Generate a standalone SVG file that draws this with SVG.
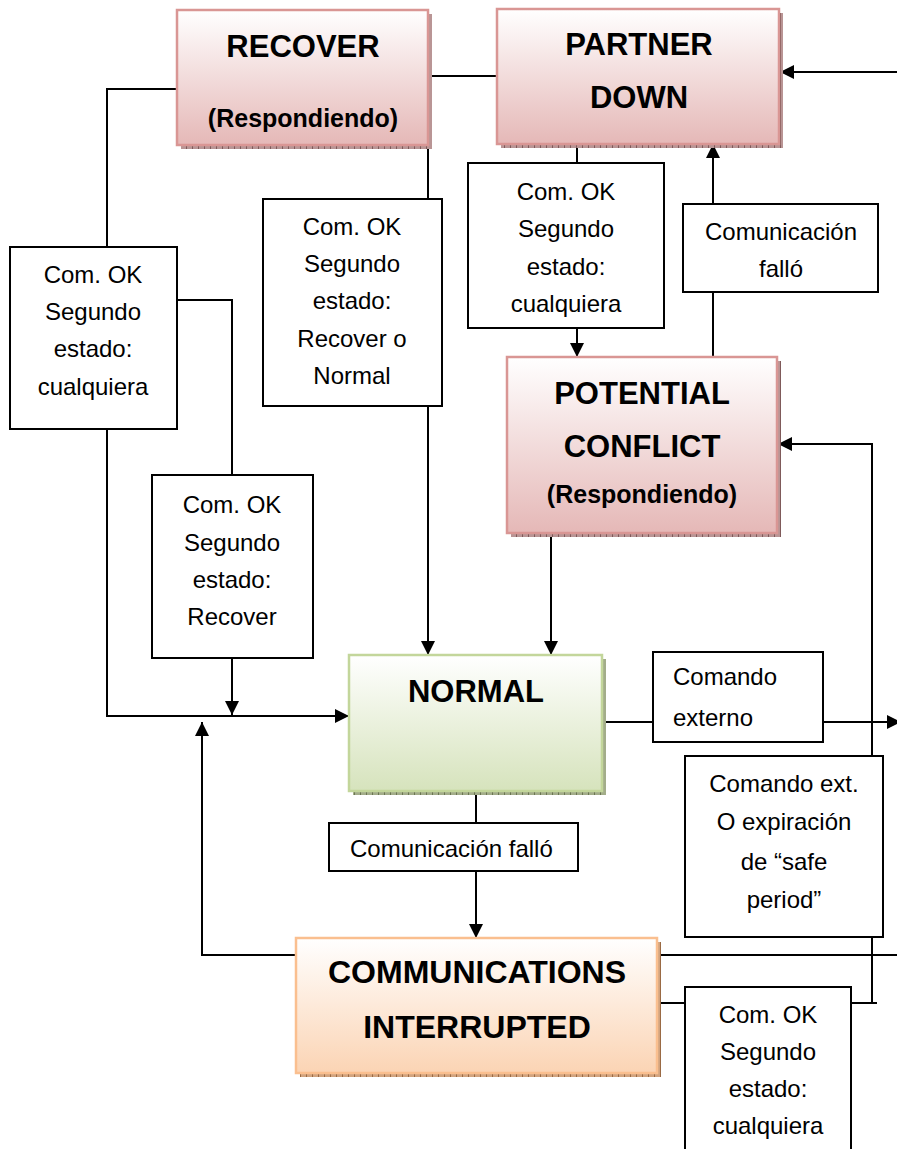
<svg xmlns="http://www.w3.org/2000/svg" width="897" height="1149" viewBox="0 0 897 1149">
  <style>
    .state-title { font-family: "Liberation Sans", Arial, sans-serif; font-weight: bold; font-size: 31px; fill: #000; text-anchor: middle; }
    .state-sub { font-family: "Liberation Sans", Arial, sans-serif; font-weight: bold; font-size: 25px; fill: #000; text-anchor: middle; }
    .label { font-family: "Liberation Sans", Arial, sans-serif; font-size: 24px; fill: #000; text-anchor: middle; }
    .label-left { font-family: "Liberation Sans", Arial, sans-serif; font-size: 24px; fill: #000; }
    .tbox { fill: #ffffff; stroke: #000; stroke-width: 2; }
    .wire { fill: none; stroke: #000; stroke-width: 2; }
    .arrow { marker-end: url(#head); }
    .pink { fill: url(#gPink); stroke: #d99694; stroke-width: 2.5; }
    .green { fill: url(#gGreen); stroke: #c3d69b; stroke-width: 2.5; }
    .orange { fill: url(#gOrange); stroke: #fabf8f; stroke-width: 2.5; }
  </style>
  <defs>
    <linearGradient id="gPink" x1="0" y1="0" x2="0" y2="1">
      <stop offset="0" stop-color="#ffffff"/>
      <stop offset="1" stop-color="#e5b8b7"/>
    </linearGradient>
    <linearGradient id="gGreen" x1="0" y1="0" x2="0" y2="1">
      <stop offset="0" stop-color="#ffffff"/>
      <stop offset="1" stop-color="#d6e3bc"/>
    </linearGradient>
    <linearGradient id="gOrange" x1="0" y1="0" x2="0" y2="1">
      <stop offset="0" stop-color="#ffffff"/>
      <stop offset="1" stop-color="#fbd4b4"/>
    </linearGradient>
    <pattern id="shPink" width="6" height="6" patternUnits="userSpaceOnUse">
      <rect width="6" height="6" fill="#b99595"/>
      <path d="M0.5,0 V6" stroke="#7f5a5a" stroke-width="1"/>
    </pattern>
    <pattern id="shGreen" width="6" height="6" patternUnits="userSpaceOnUse">
      <rect width="6" height="6" fill="#a3ad8a"/>
      <path d="M0.5,0 V6" stroke="#6b7552" stroke-width="1"/>
    </pattern>
    <pattern id="shOrange" width="6" height="6" patternUnits="userSpaceOnUse">
      <rect width="6" height="6" fill="#d2a47f"/>
      <path d="M0.5,0 V6" stroke="#9a6a44" stroke-width="1"/>
    </pattern>
    <marker id="head" markerUnits="userSpaceOnUse" markerWidth="15" markerHeight="14" refX="14" refY="7" orient="auto">
      <path d="M0,0 L14,7 L0,14 Z" fill="#000"/>
    </marker>
  </defs>

  <!-- transitions -->
  <g id="connectors">
    <path class="wire" d="M177,89 H107 V247"/>
    <path class="wire arrow" d="M107,429 V716 H349"/>
    <path class="wire" d="M177,300 H232 V475"/>
    <path class="wire arrow" d="M232,658 V715"/>
    <path class="wire arrow" d="M296,955 H202 V722"/>
    <path class="wire" d="M497,76 H428 V199"/>
    <path class="wire arrow" d="M428,406 V655"/>
    <path class="wire" d="M577,144 V163"/>
    <path class="wire arrow" d="M577,328 V357"/>
    <path class="wire" d="M713,357 V292"/>
    <path class="wire arrow" d="M713,204 V144"/>
    <path class="wire arrow" d="M551,533 V655"/>
    <path class="wire arrow" d="M897,72 H780"/>
    <path class="wire" d="M851,1003 H877"/>
    <path class="wire arrow" d="M872,1003 V444 H778"/>
    <path class="wire" d="M657,1003 H685"/>
    <path class="wire" d="M657,955 H897"/>
    <path class="wire" d="M602,722 H653"/>
    <path class="wire arrow" d="M823,722 H901"/>
    <path class="wire" d="M476,791 V823"/>
    <path class="wire arrow" d="M476,871 V938"/>
  </g>

  <!-- states -->
  <g id="recover">
    <rect x="181" y="14" width="251" height="135" fill="url(#shPink)"/>
    <rect class="pink" x="177" y="10" width="251" height="135"/>
    <text class="state-title" x="303" y="57">RECOVER</text>
    <text class="state-sub" x="303" y="127">(Respondiendo)</text>
  </g>
  <g id="partner-down">
    <rect x="501" y="13" width="282" height="135" fill="url(#shPink)"/>
    <rect class="pink" x="497" y="9" width="282" height="135"/>
    <text class="state-title" x="639" y="55">PARTNER</text>
    <text class="state-title" x="639" y="108">DOWN</text>
  </g>
  <g id="potential-conflict">
    <rect x="511" y="361" width="270" height="176" fill="url(#shPink)"/>
    <rect class="pink" x="507" y="357" width="270" height="176"/>
    <text class="state-title" x="642" y="404">POTENTIAL</text>
    <text class="state-title" x="642" y="457">CONFLICT</text>
    <text class="state-sub" x="642" y="503">(Respondiendo)</text>
  </g>
  <g id="normal">
    <rect x="353" y="659" width="253" height="136" fill="url(#shGreen)"/>
    <rect class="green" x="349" y="655" width="253" height="136"/>
    <text class="state-title" x="476" y="702">NORMAL</text>
  </g>
  <g id="communications-interrupted">
    <rect x="300" y="942" width="361" height="135" fill="url(#shOrange)"/>
    <rect class="orange" x="296" y="938" width="361" height="135"/>
    <text class="state-title" x="477" y="983" style="font-size:32px">COMMUNICATIONS</text>
    <text class="state-title" x="477" y="1038" style="font-size:32px">INTERRUPTED</text>
  </g>

  <!-- transition labels -->
  <g id="label-recover-any">
    <rect class="tbox" x="10" y="247" width="167" height="182"/>
    <text class="label" x="93" y="283">Com. OK</text>
    <text class="label" x="93" y="320">Segundo</text>
    <text class="label" x="93" y="357">estado:</text>
    <text class="label" x="93" y="395">cualquiera</text>
  </g>
  <g id="label-recover-or-normal">
    <rect class="tbox" x="263" y="199" width="179" height="207"/>
    <text class="label" x="352" y="235">Com. OK</text>
    <text class="label" x="352" y="272">Segundo</text>
    <text class="label" x="352" y="309">estado:</text>
    <text class="label" x="352" y="347">Recover o</text>
    <text class="label" x="352" y="384">Normal</text>
  </g>
  <g id="label-partner-any">
    <rect class="tbox" x="468" y="163" width="196" height="165"/>
    <text class="label" x="566" y="200">Com. OK</text>
    <text class="label" x="566" y="237">Segundo</text>
    <text class="label" x="566" y="275">estado:</text>
    <text class="label" x="566" y="312">cualquiera</text>
  </g>
  <g id="label-comm-failed-top">
    <rect class="tbox" x="683" y="204" width="195" height="88"/>
    <text class="label" x="781" y="240">Comunicación</text>
    <text class="label" x="781" y="277">falló</text>
  </g>
  <g id="label-recover-state">
    <rect class="tbox" x="152" y="475" width="161" height="183"/>
    <text class="label" x="232" y="513">Com. OK</text>
    <text class="label" x="232" y="551">Segundo</text>
    <text class="label" x="232" y="588">estado:</text>
    <text class="label" x="232" y="625">Recover</text>
  </g>
  <g id="label-external-command">
    <rect class="tbox" x="653" y="652" width="170" height="90"/>
    <text class="label-left" x="673" y="685">Comando</text>
    <text class="label-left" x="673" y="726">externo</text>
  </g>
  <g id="label-safe-period">
    <rect class="tbox" x="685" y="756" width="198" height="181"/>
    <text class="label" x="784" y="792">Comando ext.</text>
    <text class="label" x="784" y="830">O expiración</text>
    <text class="label" x="784" y="870">de “safe</text>
    <text class="label" x="784" y="908">period”</text>
  </g>
  <g id="label-comm-failed-bottom">
    <rect class="tbox" x="329" y="823" width="249" height="48"/>
    <text class="label-left" x="350" y="857">Comunicación falló</text>
  </g>
  <g id="label-interrupted-any">
    <rect class="tbox" x="685" y="987" width="166" height="200"/>
    <text class="label" x="768" y="1023">Com. OK</text>
    <text class="label" x="768" y="1060">Segundo</text>
    <text class="label" x="768" y="1097">estado:</text>
    <text class="label" x="768" y="1134">cualquiera</text>
  </g>
</svg>
